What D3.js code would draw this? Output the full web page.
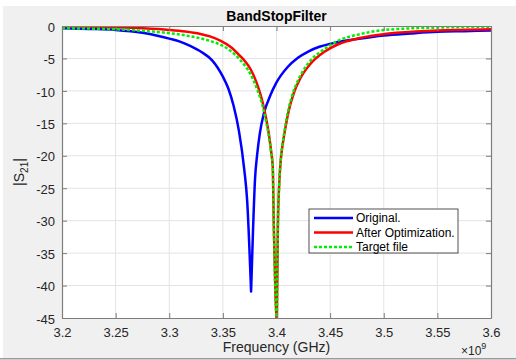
<!DOCTYPE html>
<html>
<head>
<meta charset="utf-8">
<script src="https://cdn.jsdelivr.net/npm/d3@7"></script>
<style>
  body { margin: 0; background: #fff; }
  svg { display: block; font-family: "Liberation Sans", Arial, sans-serif; }
</style>
</head>
<body>
<script>

// data (freq in GHz, |S21| in dB)
var origFreq = [3.200, 3.225, 3.250, 3.275, 3.290, 3.300, 3.310, 3.320, 3.330, 3.340, 3.345, 3.350, 3.355, 3.360, 3.365, 3.370, 3.3726, 3.3763, 3.3782, 3.380, 3.382, 3.3845, 3.388, 3.394, 3.400, 3.410, 3.420, 3.430, 3.440, 3.450, 3.460, 3.475, 3.500, 3.525, 3.550, 3.575, 3.600];
var origS21 = [-0.35, -0.45, -0.6, -1.05, -1.55, -1.95, -2.4, -3.1, -4.0, -5.3, -6.4, -7.8, -9.6, -12.3, -16.2, -22.2, -26.8, -40.9, -31.0, -23.5, -19.8, -16.5, -13.6, -10.8, -8.7, -6.4, -4.9, -3.9, -3.2, -2.75, -2.4, -2.0, -1.45, -1.15, -0.9, -0.8, -0.7];

var optFreq = [3.200, 3.225, 3.250, 3.275, 3.300, 3.315, 3.329, 3.338, 3.348, 3.357, 3.366, 3.371, 3.376, 3.382, 3.387, 3.390, 3.393, 3.395, 3.3965, 3.3975, 3.399, 3.4003, 3.4013, 3.4025, 3.404, 3.406, 3.4084, 3.4115, 3.416, 3.4224, 3.4318, 3.4443, 3.457, 3.478, 3.505, 3.550, 3.600];
var optS21 = [-0.05, -0.1, -0.2, -0.35, -0.6, -0.85, -1.23, -1.6, -2.3, -3.2, -4.6, -5.5, -6.7, -9.0, -11.7, -14.0, -16.8, -19.3, -21.7, -30.9, -41.2, -46, -30.9, -24.5, -20.6, -18.0, -15.6, -13.0, -10.4, -8.0, -5.8, -4.0, -2.85, -1.85, -1.15, -0.7, -0.5];

var targetFreq = [3.200, 3.250, 3.275, 3.300, 3.315, 3.329, 3.338, 3.348, 3.357, 3.366, 3.371, 3.376, 3.382, 3.387, 3.390, 3.393, 3.395, 3.3965, 3.3975, 3.399, 3.4003, 3.4013, 3.4025, 3.404, 3.406, 3.4084, 3.4115, 3.416, 3.4224, 3.4318, 3.4443, 3.457, 3.478, 3.505, 3.550, 3.600];
var targetS21 = [-0.35, -0.5, -0.75, -1.1, -1.45, -1.9, -2.3, -2.9, -3.8, -5.2, -6.2, -7.5, -9.8, -12.3, -14.5, -17.1, -19.5, -21.8, -31.0, -41.5, -46, -31.0, -24.5, -20.5, -17.8, -15.2, -12.6, -10.0, -7.6, -5.3, -3.6, -2.3, -1.25, -0.55, -0.25, -0.1];

var xTicks = [3.2, 3.25, 3.3, 3.35, 3.4, 3.45, 3.5, 3.55, 3.6];
var yTicks = [0, -5, -10, -15, -20, -25, -30, -35, -40, -45];
var legendNames = ["Original.", "After Optimization.", "Target file"];

var width = 516;
var height = 360;
// plot box (window.top is taken, so p-prefixed names)
var pLeft = 62, pRight = 491, pTop = 26, pBottom = 318;

var svg = d3.select('body').append('svg')
  .attr('width', width)
  .attr('height', height);

// matlab figure background
svg.append('rect').attr('x', 3).attr('y', 6).attr('width', width - 3).attr('height', 352).attr('fill', '#f0f0f0');
svg.append('rect').attr('x', 0).attr('y', 358).attr('width', width).attr('height', 1.5).attr('fill', '#9a9a9a');

svg.append('rect')
  .attr('x', pLeft).attr('y', pTop)
  .attr('width', pRight - pLeft).attr('height', pBottom - pTop)
  .attr('fill', '#fff');

var x = d3.scaleLinear().domain([3.2, 3.6]).range([pLeft, pRight]);
var y = d3.scaleLinear().domain([-45, 0]).range([pBottom, pTop]);

// grid
svg.append('g').selectAll('line')
  .data(xTicks.slice(1, -1)).enter().append('line')
  .attr('x1', function(d){ return x(d); }).attr('x2', function(d){ return x(d); })
  .attr('y1', pTop).attr('y2', pBottom)
  .attr('stroke', '#e3e3e3').attr('stroke-width', 1);
svg.append('g').selectAll('line')
  .data(yTicks.slice(1, -1)).enter().append('line')
  .attr('y1', function(d){ return y(d); }).attr('y2', function(d){ return y(d); })
  .attr('x1', pLeft).attr('x2', pRight)
  .attr('stroke', '#e3e3e3').attr('stroke-width', 1);

svg.append('clipPath').attr('id', 'plotclip')
  .append('rect').attr('x', pLeft).attr('y', pTop).attr('width', pRight - pLeft).attr('height', pBottom - pTop);

var line = d3.line()
  .curve(d3.curveMonotoneX)
  .x(function(d){ return x(d[0]); })
  .y(function(d){ return y(d[1]); });

var series = [
  { name: legendNames[0], pts: d3.zip(origFreq, origS21), color: '#0000ff', dash: null },
  { name: legendNames[1], pts: d3.zip(optFreq, optS21), color: '#ff0000', dash: null },
  { name: legendNames[2], pts: d3.zip(targetFreq, targetS21), color: '#00ee00', dash: '3,2' }
];

// split each curve at its notch so the tip stays sharp
var plot = svg.append('g').attr('clip-path', 'url(#plotclip)');
series.forEach(function(s){
  var iMin = d3.minIndex(s.pts, function(d){ return d[1]; });
  var d = line(s.pts.slice(0, iMin + 1)) + line(s.pts.slice(iMin)).replace(/^M[^LC]*/, '');
  plot.append('path')
    .attr('d', d)
    .attr('fill', 'none')
    .attr('stroke', s.color)
    .attr('stroke-width', 2.5)
    .attr('stroke-linejoin', 'round')
    .attr('stroke-dasharray', s.dash);
});

// axes, ticks point inward like matlab
var fmtY = function(d){ return d < 0 ? '-' + Math.abs(d) : String(d); };
var axisColor = '#7d7d7d';

var gx = svg.append('g').attr('transform', 'translate(0,' + pBottom + ')')
  .call(d3.axisBottom(x).tickValues(xTicks).tickFormat(function(d){ return String(d); }).tickSizeInner(-5).tickSizeOuter(0).tickPadding(10));
var gy = svg.append('g').attr('transform', 'translate(' + pLeft + ',0)')
  .call(d3.axisLeft(y).tickValues(yTicks).tickFormat(fmtY).tickSizeInner(-5).tickSizeOuter(0).tickPadding(7));
var gt = svg.append('g').attr('transform', 'translate(0,' + pTop + ')')
  .call(d3.axisTop(x).tickValues(xTicks).tickFormat('').tickSizeInner(-5).tickSizeOuter(0));
var gr = svg.append('g').attr('transform', 'translate(' + pRight + ',0)')
  .call(d3.axisRight(y).tickValues(yTicks).tickFormat('').tickSizeInner(-5).tickSizeOuter(0));

[gx, gy, gt, gr].forEach(function(g){
  g.select('.domain').attr('stroke', axisColor).attr('stroke-width', 1.2);
  g.selectAll('.tick line').attr('stroke', axisColor);
  g.selectAll('.tick text').attr('fill', '#262626').style('font-size', '13px').style('font-family', '"Liberation Sans", Arial, sans-serif');
});
gy.selectAll('.tick text').attr('dy', '0.4em');

// title + labels
svg.append('text')
  .attr('x', (pLeft + pRight) / 2).attr('y', 21)
  .attr('text-anchor', 'middle')
  .style('font-size', '14px').style('font-weight', 'bold')
  .attr('fill', '#000')
  .text('BandStopFilter');

svg.append('text')
  .attr('x', (pLeft + pRight) / 2).attr('y', 352)
  .attr('text-anchor', 'middle')
  .style('font-size', '14px')
  .attr('fill', '#262626')
  .text('Frequency (GHz)');

var ex = svg.append('text')
  .attr('x', 461).attr('y', 355)
  .style('font-size', '12px')
  .attr('fill', '#262626');
ex.append('tspan').text('\u00d710');
ex.append('tspan').attr('dy', -6).style('font-size', '9px').text('9');

var yl = svg.append('text')
  .attr('transform', 'translate(24,' + ((pTop + pBottom) / 2) + ') rotate(-90)')
  .attr('text-anchor', 'middle')
  .style('font-size', '14px')
  .attr('fill', '#262626');
yl.append('tspan').text('|S');
yl.append('tspan').attr('dy', 4).style('font-size', '10px').text('21');
yl.append('tspan').attr('dy', -4).text('|');

// legend
var lg = svg.append('g');
lg.append('rect')
  .attr('x', 309).attr('y', 209).attr('width', 149).attr('height', 44)
  .attr('fill', '#fff').attr('stroke', '#262626').attr('stroke-width', 0.8);
series.forEach(function(s, i){
  var ly = 218 + i * 14.5;
  lg.append('line')
    .attr('x1', 314).attr('x2', 353).attr('y1', ly).attr('y2', ly)
    .attr('stroke', s.color).attr('stroke-width', 2.5)
    .attr('stroke-dasharray', s.dash);
  lg.append('text')
    .attr('x', 356).attr('y', ly + 4.3)
    .style('font-size', '12px')
    .attr('fill', '#000')
    .text(s.name);
});

</script>
</body>
</html>
